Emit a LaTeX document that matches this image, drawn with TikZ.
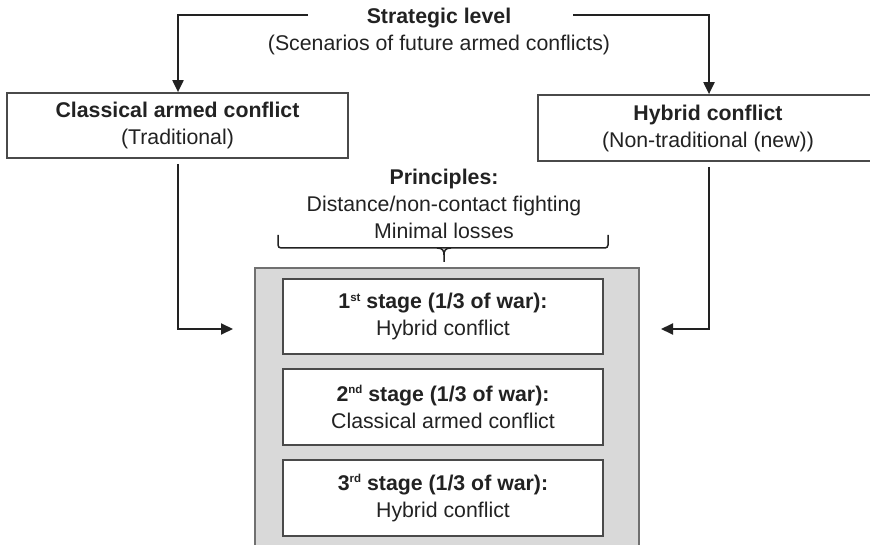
\documentclass[tikz,border=0pt]{standalone}
\usepackage{fontspec}
\setmainfont{Liberation Sans}
\usetikzlibrary{arrows.meta,calc}
\definecolor{ink}{HTML}{222222}
\definecolor{boxline}{HTML}{4A4A4A}
\definecolor{panelfill}{HTML}{D9D9D9}
\definecolor{panelline}{HTML}{707070}
\newcommand{\supx}[1]{\raisebox{0.34em}{\fontsize{11.5}{12}\selectfont\bfseries #1}}
\begin{document}
\begin{tikzpicture}[x=1pt,y=-1pt,
  font=\fontsize{21.3}{27}\selectfont, text=ink,
  txt/.style={align=center, inner sep=0pt},
  box/.style={draw=boxline, line width=1.7pt, fill=white, align=center, inner sep=0pt},
  conn/.style={draw=ink, line width=2pt, -{Triangle[length=12pt,width=11pt]}},
  plain/.style={draw=ink, line width=1.5pt}]
\useasboundingbox (0,0) rectangle (870,545);
\clip (0,0) rectangle (870,545);

% top text
\node[txt] (strat) at (439,31) {\textbf{Strategic level}\\(Scenarios of future armed conflicts)};

% conflict boxes
\node[box, minimum width=341pt, minimum height=65pt] (left) at (177.5,125.5)
  {\textbf{Classical armed conflict}\\(Traditional)};
\node[box, minimum width=340pt, minimum height=66pt] (right) at (708,128)
  {\textbf{Hybrid conflict}\\(Non-traditional (new))};

% top connectors
\coordinate (sl) at (308,15);
\coordinate (sr) at (573,15);
\draw[conn] (sl) -| ($(left.north)+(0.5,0)$);
\draw[conn] (sr) -| ($(right.north)+(1,0)$);

% principles
\node[txt] (princ) at (444,204) {\textbf{Principles:}\\Distance/non-contact fighting\\Minimal losses};
\draw[plain, rounded corners=3pt] (278,235) -- (278,248) -- (608,248) -- (608,235);
\draw[plain] (437,248) .. controls (443,248) and (444,251) .. (444,255) -- (444,262);
\draw[plain] (451,248) .. controls (445,248) and (444,251) .. (444,255);

% grey panel
\node[draw=panelline, fill=panelfill, line width=2pt, minimum width=384pt, minimum height=300pt, inner sep=0pt] (panel) at (447,418) {};

% stages
\node[box, minimum width=320pt, minimum height=75pt] (s1) at (443,316.5)
  {\textbf{1\supx{st} stage (1/3 of war):}\\Hybrid conflict};
\node[box, minimum width=320pt, minimum height=76pt] (s2) at (443,407)
  {\textbf{2\supx{nd} stage (1/3 of war):}\\Classical armed conflict};
\node[box, minimum width=320pt, minimum height=76pt] (s3) at (443,498)
  {\textbf{3\supx{rd} stage (1/3 of war):}\\Hybrid conflict};

% side connectors
\coordinate (la) at (233,329);
\coordinate (ra) at (661,329);
\draw[conn] ($(left.south)+(0.5,5)$) |- (la);
\draw[conn] ($(right.south)+(1,5)$) |- (ra);
\end{tikzpicture}
\end{document}
